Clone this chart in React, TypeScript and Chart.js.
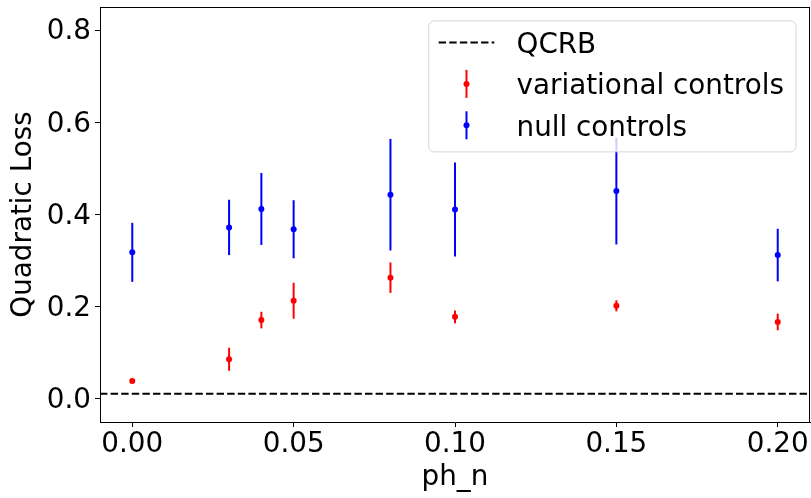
import React, { useEffect, useRef } from "react";
import { Chart, registerables } from "chart.js";

Chart.register(...registerables);

// ---- data ----
const PH_N = [0.0, 0.03, 0.04, 0.05, 0.08, 0.1, 0.15, 0.2];
const VAR_MEAN = [0.039, 0.086, 0.171, 0.213, 0.263, 0.178, 0.202, 0.167];
const VAR_ERR = [0.003, 0.025, 0.018, 0.039, 0.033, 0.014, 0.012, 0.018];
const NULL_MEAN = [0.318, 0.372, 0.412, 0.368, 0.443, 0.411, 0.451, 0.312];
const NULL_ERR = [0.064, 0.06, 0.078, 0.063, 0.121, 0.102, 0.116, 0.057];
const QCRB = 0.011;

const SERIES_LABELS = ["QCRB", "variational controls", "null controls"];
const X_LIMITS = [-0.01, 0.21];
const Y_LIMITS = [-0.05, 0.85];
const X_TICKS = [0, 0.05, 0.1, 0.15, 0.2];
const X_TICK_LABELS = ["0.00", "0.05", "0.10", "0.15", "0.20"];
const Y_TICKS = [0, 0.2, 0.4, 0.6, 0.8];
const Y_TICK_LABELS = ["0.0", "0.2", "0.4", "0.6", "0.8"];
const X_TITLE = "ph_n";
const Y_TITLE = "Quadratic Loss";

const FONT_FAMILY = '"DejaVu Sans", sans-serif';
const FS = 27.8;
const DASH = [7.4, 3.2];

const errorBarPlugin = {
  id: "errorBars",
  beforeDatasetsDraw(chart: any) {
    const { ctx, chartArea, scales } = chart;
    const xs = scales.x;
    const ys = scales.y;
    ctx.save();
    ctx.beginPath();
    ctx.rect(chartArea.left, chartArea.top, chartArea.right - chartArea.left, chartArea.bottom - chartArea.top);
    ctx.clip();
    chart.data.datasets.forEach((ds: any) => {
      if (!ds.errors) return;
      ctx.strokeStyle = ds.borderColor;
      ctx.lineWidth = 2;
      ds.data.forEach((p: any, j: number) => {
        const px = xs.getPixelForValue(p.x);
        ctx.beginPath();
        ctx.moveTo(px, ys.getPixelForValue(p.y - ds.errors[j]));
        ctx.lineTo(px, ys.getPixelForValue(p.y + ds.errors[j]));
        ctx.stroke();
      });
    });
    ctx.restore();
  },
};

const framePlugin = {
  id: "frame",
  afterDatasetsDraw(chart: any) {
    const { ctx, chartArea } = chart;
    ctx.save();
    ctx.strokeStyle = "#000";
    ctx.lineWidth = 1;
    ctx.beginPath();
    ctx.moveTo(chartArea.left, chartArea.top + 0.5);
    ctx.lineTo(chartArea.right, chartArea.top + 0.5);
    ctx.moveTo(chartArea.right - 0.5, chartArea.top);
    ctx.lineTo(chartArea.right - 0.5, chartArea.bottom);
    ctx.stroke();
    ctx.restore();
  },
};

const legendPlugin = {
  id: "mplLegend",
  afterDraw(chart: any) {
    const { ctx, chartArea } = chart;
    const datasets = chart.data.datasets;
    ctx.save();
    ctx.font = `${FS}px ${FONT_FAMILY}`;
    const borderPad = 0.4 * FS;
    const handleLen = 2 * FS;
    const handleTextPad = 0.8 * FS;
    const axPad = 0.5 * FS;
    const textW = Math.max(...datasets.map((d: any) => ctx.measureText(d.label).width));
    const boxW = borderPad + handleLen + handleTextPad + textW + borderPad;
    const boxH = 131;
    const right = chartArea.right - axPad;
    const top = chartArea.top + axPad;
    const left = right - boxW;
    ctx.beginPath();
    ctx.roundRect(left, top, boxW, boxH, 5.6);
    ctx.fillStyle = "rgba(255,255,255,0.8)";
    ctx.fill();
    ctx.strokeStyle = "rgba(204,204,204,0.8)";
    ctx.lineWidth = 1;
    ctx.stroke();

    const hx0 = left + 10;
    const hx1 = hx0 + handleLen;
    const hxc = (hx0 + hx1) / 2;
    datasets.forEach((d: any, i: number) => {
      const cy = top + 21.6 + i * 41.4;
      if (d.errors) {
        ctx.strokeStyle = d.borderColor;
        ctx.lineWidth = 2;
        ctx.setLineDash([]);
        ctx.beginPath();
        ctx.moveTo(hxc, cy - 14);
        ctx.lineTo(hxc, cy + 14);
        ctx.stroke();
        ctx.fillStyle = d.backgroundColor;
        ctx.beginPath();
        ctx.arc(hxc, cy, d.pointRadius, 0, Math.PI * 2);
        ctx.fill();
      } else {
        ctx.strokeStyle = d.borderColor;
        ctx.lineWidth = d.borderWidth;
        ctx.setLineDash(d.borderDash || []);
        ctx.beginPath();
        ctx.moveTo(hx0, cy);
        ctx.lineTo(hx1, cy);
        ctx.stroke();
        ctx.setLineDash([]);
      }
      ctx.fillStyle = "#000";
      ctx.textAlign = "left";
      ctx.textBaseline = "alphabetic";
      ctx.fillText(d.label, hx1 + handleTextPad, cy + 10.5);
    });
    ctx.restore();
  },
};

const zeroPad = (s: any) => {
  s.paddingLeft = 0;
  s.paddingRight = 0;
  s.paddingTop = 0;
  s.paddingBottom = 0;
};

export default function App() {
  const ref = useRef<HTMLCanvasElement | null>(null);

  useEffect(() => {
    if (!ref.current) return;
    const font = { family: FONT_FAMILY, size: FS };
    const chart = new Chart(ref.current, {
      type: "scatter",
      data: {
        datasets: [
          {
            type: "line",
            label: SERIES_LABELS[0],
            data: [
              { x: X_LIMITS[0], y: QCRB },
              { x: X_LIMITS[1], y: QCRB },
            ],
            borderColor: "#000",
            borderWidth: 2,
            borderDash: DASH,
            pointRadius: 0,
            fill: false,
          } as any,
          {
            label: SERIES_LABELS[1],
            data: PH_N.map((x, i) => ({ x, y: VAR_MEAN[i] })),
            errors: VAR_ERR,
            borderColor: "#ff0000",
            backgroundColor: "#ff0000",
            pointRadius: 3,
            pointBorderWidth: 0,
          } as any,
          {
            label: SERIES_LABELS[2],
            data: PH_N.map((x, i) => ({ x, y: NULL_MEAN[i] })),
            errors: NULL_ERR,
            borderColor: "#0000ff",
            backgroundColor: "#0000ff",
            pointRadius: 3,
            pointBorderWidth: 0,
          } as any,
        ],
      },
      options: {
        responsive: false,
        animation: false,
        events: [],
        layout: { padding: { top: 7, right: 0, left: 0, bottom: 0 } },
        plugins: { legend: { display: false }, tooltip: { enabled: false } },
        scales: {
          x: {
            type: "linear",
            min: X_LIMITS[0],
            max: X_LIMITS[1],
            afterBuildTicks: (s: any) => {
              s.ticks = X_TICKS.map((v) => ({ value: v }));
            },
            afterFit: (s: any) => {
              s.height = 76;
              zeroPad(s);
            },
            ticks: {
              autoSkip: false,
              maxRotation: 0,
              minRotation: 0,
              padding: 1,
              color: "#000",
              font,
              callback: (_v: any, i: number) => X_TICK_LABELS[i],
            },
            grid: {
              display: true,
              drawOnChartArea: false,
              drawTicks: true,
              tickLength: 5,
              tickColor: "#000",
              tickWidth: 1,
            },
            border: { display: true, color: "#000", width: 1 },
            title: {
              display: true,
              text: X_TITLE,
              color: "#000",
              font,
              padding: { top: 0, bottom: 4 },
            },
          },
          y: {
            type: "linear",
            min: Y_LIMITS[0],
            max: Y_LIMITS[1],
            afterBuildTicks: (s: any) => {
              s.ticks = Y_TICKS.map((v) => ({ value: v }));
            },
            afterFit: (s: any) => {
              s.width = 100;
              zeroPad(s);
            },
            ticks: {
              autoSkip: false,
              padding: 4,
              labelOffset: 2,
              color: "#000",
              font,
              callback: (_v: any, i: number) => Y_TICK_LABELS[i],
            },
            grid: {
              display: true,
              drawOnChartArea: false,
              drawTicks: true,
              tickLength: 5,
              tickColor: "#000",
              tickWidth: 1,
            },
            border: { display: true, color: "#000", width: 1 },
            title: {
              display: true,
              text: Y_TITLE,
              color: "#000",
              font,
              padding: { top: 7, bottom: 0 },
            },
          },
        },
      } as any,
      plugins: [errorBarPlugin, framePlugin, legendPlugin],
    });
    return () => chart.destroy();
  }, []);

  return (
    <div style={{ position: "fixed", left: 0, top: 0, width: 811, height: 498, overflow: "hidden", background: "#fff" }}>
      <canvas ref={ref} width={814} height={498} style={{ display: "block" }} />
    </div>
  );
}
